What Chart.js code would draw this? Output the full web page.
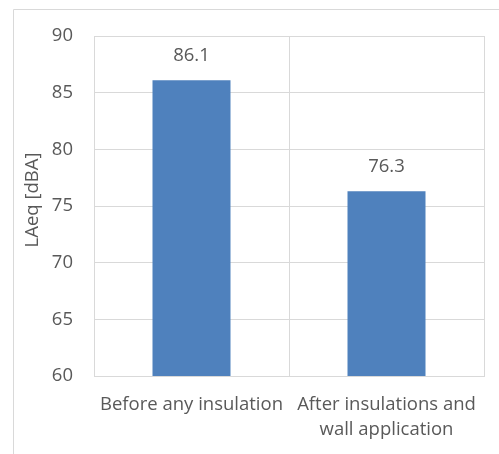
<!DOCTYPE html>
<html>
<head>
<meta charset="utf-8">
<script src="https://cdn.jsdelivr.net/npm/chart.js@4/dist/chart.umd.min.js"></script>
<style>
  html, body { margin: 0; padding: 0; background: #ffffff; }
  #wrap { position: relative; width: 499px; height: 454px; }
</style>
</head>
<body>
<div id="wrap"><canvas id="c" width="499" height="454"></canvas></div>
<script>
// Noise level measurements
const categories = [["Before any insulation"], ["After insulations and", "wall application"]];
const laeqValues = [86.1, 76.3];
const yTicks = [60, 65, 70, 75, 80, 85, 90];
const yAxisTitle = 'LAeq [dBA]';

const textColor = '#595959';
const gridColor = '#d9d9d9';
const fontFamily = '"Open Sans", "DejaVu Sans", sans-serif';
const fontSize = 18.5;

// Frame around the chart, vertical axis title and value labels above each bar
const decorations = {
  id: 'decorations',
  beforeDraw(chart) {
    const ctx = chart.ctx;
    ctx.save();
    ctx.strokeStyle = '#d9d9d9';
    ctx.lineWidth = 1;
    ctx.beginPath();
    ctx.moveTo(13.5, 460);
    ctx.lineTo(13.5, 9.5);
    ctx.lineTo(505, 9.5);
    ctx.stroke();

    // axis title, slightly above the plot's vertical centre
    const area = chart.chartArea;
    ctx.translate(32.5, (area.top + area.bottom) / 2 - 6);
    ctx.rotate(-Math.PI / 2);
    ctx.fillStyle = textColor;
    ctx.font = fontSize + 'px ' + fontFamily;
    ctx.textAlign = 'center';
    ctx.textBaseline = 'middle';
    ctx.fillText(yAxisTitle, 0, 0);
    ctx.restore();
  },
  afterDatasetsDraw(chart) {
    const ctx = chart.ctx;
    const meta = chart.getDatasetMeta(0);
    ctx.save();
    ctx.fillStyle = textColor;
    ctx.font = fontSize + 'px ' + fontFamily;
    ctx.textAlign = 'center';
    ctx.textBaseline = 'middle';
    meta.data.forEach((bar, i) => {
      ctx.fillText(laeqValues[i].toFixed(1), bar.x, bar.y - 24.5);
    });
    ctx.restore();
  }
};

new Chart(document.getElementById('c'), {
  type: 'bar',
  data: {
    labels: categories,
    datasets: [{
      data: laeqValues,
      backgroundColor: '#4f81bd',
      borderWidth: 0,
      barPercentage: 0.4,
      categoryPercentage: 1.0
    }]
  },
  options: {
    responsive: false,
    animation: false,
    devicePixelRatio: 1,
    layout: { padding: { left: 0, top: 36, right: 15, bottom: 0 } },
    plugins: { legend: { display: false }, tooltip: { enabled: false } },
    scales: {
      x: {
        grid: { color: gridColor, lineWidth: 1, drawTicks: false, offset: true },
        border: { color: gridColor },
        ticks: { color: textColor, font: { family: fontFamily, size: fontSize, lineHeight: 1.35 }, padding: 16, maxRotation: 0, autoSkip: false },
        afterFit(scale) { scale.height = 78; }
      },
      y: {
        min: 60, max: 90,
        afterBuildTicks(scale) { scale.ticks = yTicks.map(v => ({ value: v })); },
        grid: { color: gridColor, lineWidth: 1, drawTicks: false },
        border: { color: gridColor },
        ticks: { color: textColor, font: { family: fontFamily, size: fontSize }, padding: 21 },
        afterFit(scale) { scale.width = 94; }
      }
    }
  },
  plugins: [decorations]
});
</script>
</body>
</html>
